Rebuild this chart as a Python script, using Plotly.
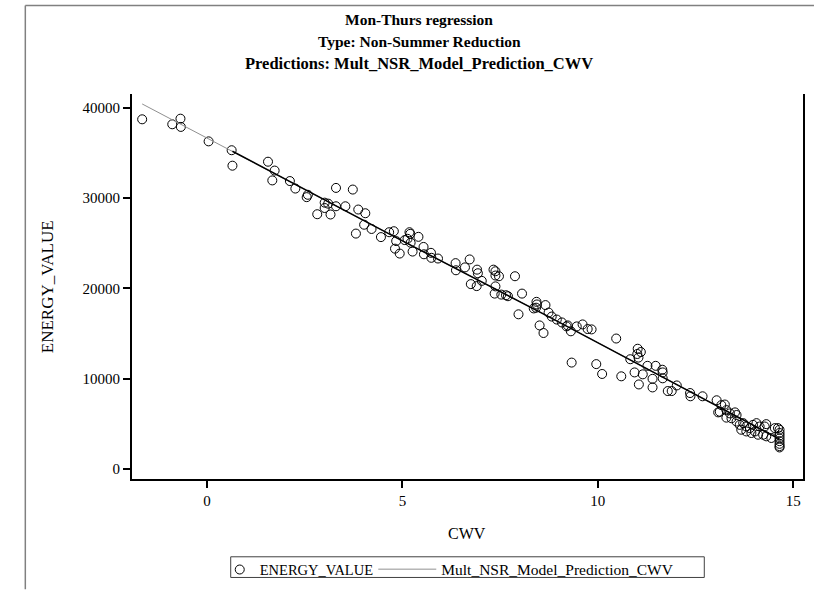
import plotly.graph_objects as go

# ---- data ----
cwv = [-1.66, -0.89, -0.68, -0.67, 0.04, 0.63, 0.65, 1.56, 1.73, 1.67,
       2.12, 2.26, 2.58, 2.55, 2.82, 3.01, 3.10, 3.01, 3.16, 3.30,
       3.30, 3.54, 3.73, 3.87, 4.05, 4.02, 3.81, 4.21, 4.45, 4.66,
       4.78, 4.84, 4.81, 4.93, 5.06, 5.13, 5.18, 5.20, 5.21, 5.26,
       5.41, 5.54, 5.55, 5.73, 5.74, 5.91, 6.36, 6.37, 6.60, 6.72,
       6.91, 6.93, 7.33, 7.38, 7.38, 7.47, 7.88, 6.75, 6.90, 7.03,
       7.38, 7.36, 7.53, 7.65, 7.70, 8.06, 7.97, 8.43, 8.44, 8.36,
       8.42, 8.66, 8.51, 8.61, 8.74, 8.82, 8.95, 9.08, 9.23, 9.46,
       9.61, 9.84, 9.31, 9.20, 9.74, 10.47, 9.33, 9.96, 10.11, 10.60,
       10.83, 11.02, 11.10, 11.01, 11.04, 10.94, 11.15, 11.05, 11.27, 11.40,
       11.40, 11.48, 11.65, 11.66, 11.66, 11.79, 11.89, 12.02, 12.36, 12.37,
       12.68, 13.04, 13.08, 13.16, 13.25, 13.12, 13.29, 13.38, 13.51, 13.55,
       13.29, 13.42, 13.55, 13.63, 13.72, 13.80, 13.89, 13.97, 14.06, 14.14,
       14.27, 14.31, 13.67, 13.80, 13.93, 14.02, 14.10, 14.23, 14.31, 14.44,
       14.53, 14.61, 14.65, 14.65, 14.65, 14.65, 14.65, 14.65, 14.65, 14.65]
energy = [38700, 38150, 38770, 37860, 36260, 35280, 33570, 34010, 33030, 31940,
          31870, 31040, 30350, 30090, 28200, 29480, 29370, 28890, 28170, 31110,
          29080, 29080, 30930, 28720, 28310, 27040, 26060, 26570, 25670, 26210,
          26320, 25230, 24390, 23850, 25340, 25480, 26210, 26030, 25050, 24070,
          25700, 24580, 23770, 23930, 23380, 23300, 22790, 22000, 22320, 23200,
          22070, 21670, 22070, 21890, 21420, 21340, 21340, 20470, 20250, 20830,
          20220, 19420, 19310, 19240, 19130, 19420, 17130, 18510, 18220, 17780,
          17860, 18150, 15900, 15060, 17320, 16880, 16550, 16230, 15900, 15790,
          16010, 15460, 15250, 15790, 15500, 14450, 11790, 11620, 10530, 10270,
          12160, 13320, 12960, 12740, 12340, 10700, 10490, 9370, 11430, 9990,
          9040, 11430, 11000, 10700, 10050, 8640, 8640, 9260, 8420, 8060,
          8060, 7620, 6280, 7080, 7150, 6350, 6530, 6170, 6280, 5990,
          5700, 5630, 5260, 4900, 5090, 4720, 4540, 4900, 5090, 4720,
          4720, 4980, 4360, 4170, 4000, 4170, 3810, 3810, 3630, 3450,
          4540, 4540, 4360, 4000, 3700, 3400, 3100, 2800, 2550, 2400]

pred_x = [-1.66, 0.65, 3.64, 5.0, 8.74, 12.06, 14.65]
pred_y = [40400, 35170, 28390, 25250, 16880, 9260, 3320]

x_ticks = [0, 5, 10, 15]
y_ticks = [0, 10000, 20000, 30000, 40000]

title_lines = ["Mon-Thurs regression", "Type: Non-Summer Reduction",
               "Predictions: Mult_NSR_Model_Prediction_CWV"]

SERIF = "Liberation Serif, Times New Roman, serif"

fig = go.Figure()
fig.add_trace(go.Scatter(
    x=cwv, y=energy, mode="markers", name="ENERGY_VALUE", legend="legend",
    marker=dict(symbol="circle-open", size=9, color="black",
                line=dict(width=1, color="black"))))
fig.add_trace(go.Scatter(
    x=pred_x, y=pred_y, mode="lines", name="Mult_NSR_Model_Prediction_CWV",
    legend="legend2", line=dict(color="#909090", width=1)))
fig.add_trace(go.Scatter(
    x=pred_x[1:], y=pred_y[1:], mode="lines", showlegend=False,
    line=dict(color="black", width=1.5), hoverinfo="skip"))

L, R, T, B = 132, 11, 94, 112
W, H = 816, 597
pw, ph = W - L - R, H - T - B


def px_x(p):
    return (p - L) / pw


def px_y(p):
    return (H - B - p) / ph


annotations = []
for t, yp, fs in zip(title_lines, [18, 41, 63], [15.5, 15.5, 16.5]):
    annotations.append(dict(text="<b>" + t + "</b>", x=px_x(420), y=px_y(yp),
                            xref="paper", yref="paper", showarrow=False,
                            xanchor="center", yanchor="middle",
                            font=dict(family=SERIF, size=fs, color="black")))
annotations.append(dict(text="CWV", x=px_x(468), y=px_y(540), xref="paper", yref="paper",
                        showarrow=False, xanchor="center", yanchor="middle",
                        font=dict(family=SERIF, size=16, color="black")))
annotations.append(dict(text="ENERGY_VALUE", x=px_x(48), y=px_y(290), xref="paper",
                        yref="paper", showarrow=False, textangle=-90,
                        xanchor="center", yanchor="middle",
                        font=dict(family=SERIF, size=17, color="black")))

shapes = [
    dict(type="line", xref="paper", yref="paper", x0=px_x(25), x1=px_x(816),
         y0=px_y(4), y1=px_y(4), line=dict(color="#808080", width=1.5)),
    dict(type="line", xref="paper", yref="paper", x0=px_x(25), x1=px_x(25),
         y0=px_y(4), y1=px_y(597), line=dict(color="#808080", width=1.5)),
    # legend frame
    dict(type="rect", xref="paper", yref="paper", x0=px_x(231), x1=px_x(706),
         y0=px_y(585), y1=px_y(564), line=dict(color="#404040", width=1)),
]

fig.update_layout(
    width=W, height=H,
    margin=dict(l=L, r=R, t=T, b=B),
    paper_bgcolor="white", plot_bgcolor="white",
    font=dict(family=SERIF, size=15, color="black"),
    showlegend=True,
    legend=dict(orientation="h", x=px_x(220), y=px_y(577), xanchor="left",
                yanchor="middle", borderwidth=0, bgcolor="rgba(0,0,0,0)",
                font=dict(family=SERIF, size=14.5, color="black"),
                itemwidth=30, tracegroupgap=0),
    legend2=dict(orientation="h", x=px_x(374), y=px_y(577), xanchor="left",
                 yanchor="middle", borderwidth=0, bgcolor="rgba(0,0,0,0)",
                 font=dict(family=SERIF, size=15.5, color="black"),
                 itemwidth=58, tracegroupgap=0),
    annotations=annotations,
    shapes=shapes,
    xaxis=dict(range=[-1.92, 15.25], tickvals=x_ticks, ticks="outside", ticklen=7,
               tickwidth=1.5, tickcolor="black", showline=True, linecolor="black",
               linewidth=2, mirror=False, showgrid=False, zeroline=False,
               tickfont=dict(family=SERIF, size=15, color="black")),
    yaxis=dict(range=[-1089, 41500], tickvals=y_ticks, ticks="outside", ticklen=7,
               tickwidth=1.5, tickcolor="black", showline=True, linecolor="black",
               linewidth=2, mirror=True, showgrid=False, zeroline=False,
               tickformat="d",
               tickfont=dict(family=SERIF, size=15, color="black")),
)

fig.write_html("out.html", config={"displayModeBar": False},
               post_script="document.body.style.margin='0';")
